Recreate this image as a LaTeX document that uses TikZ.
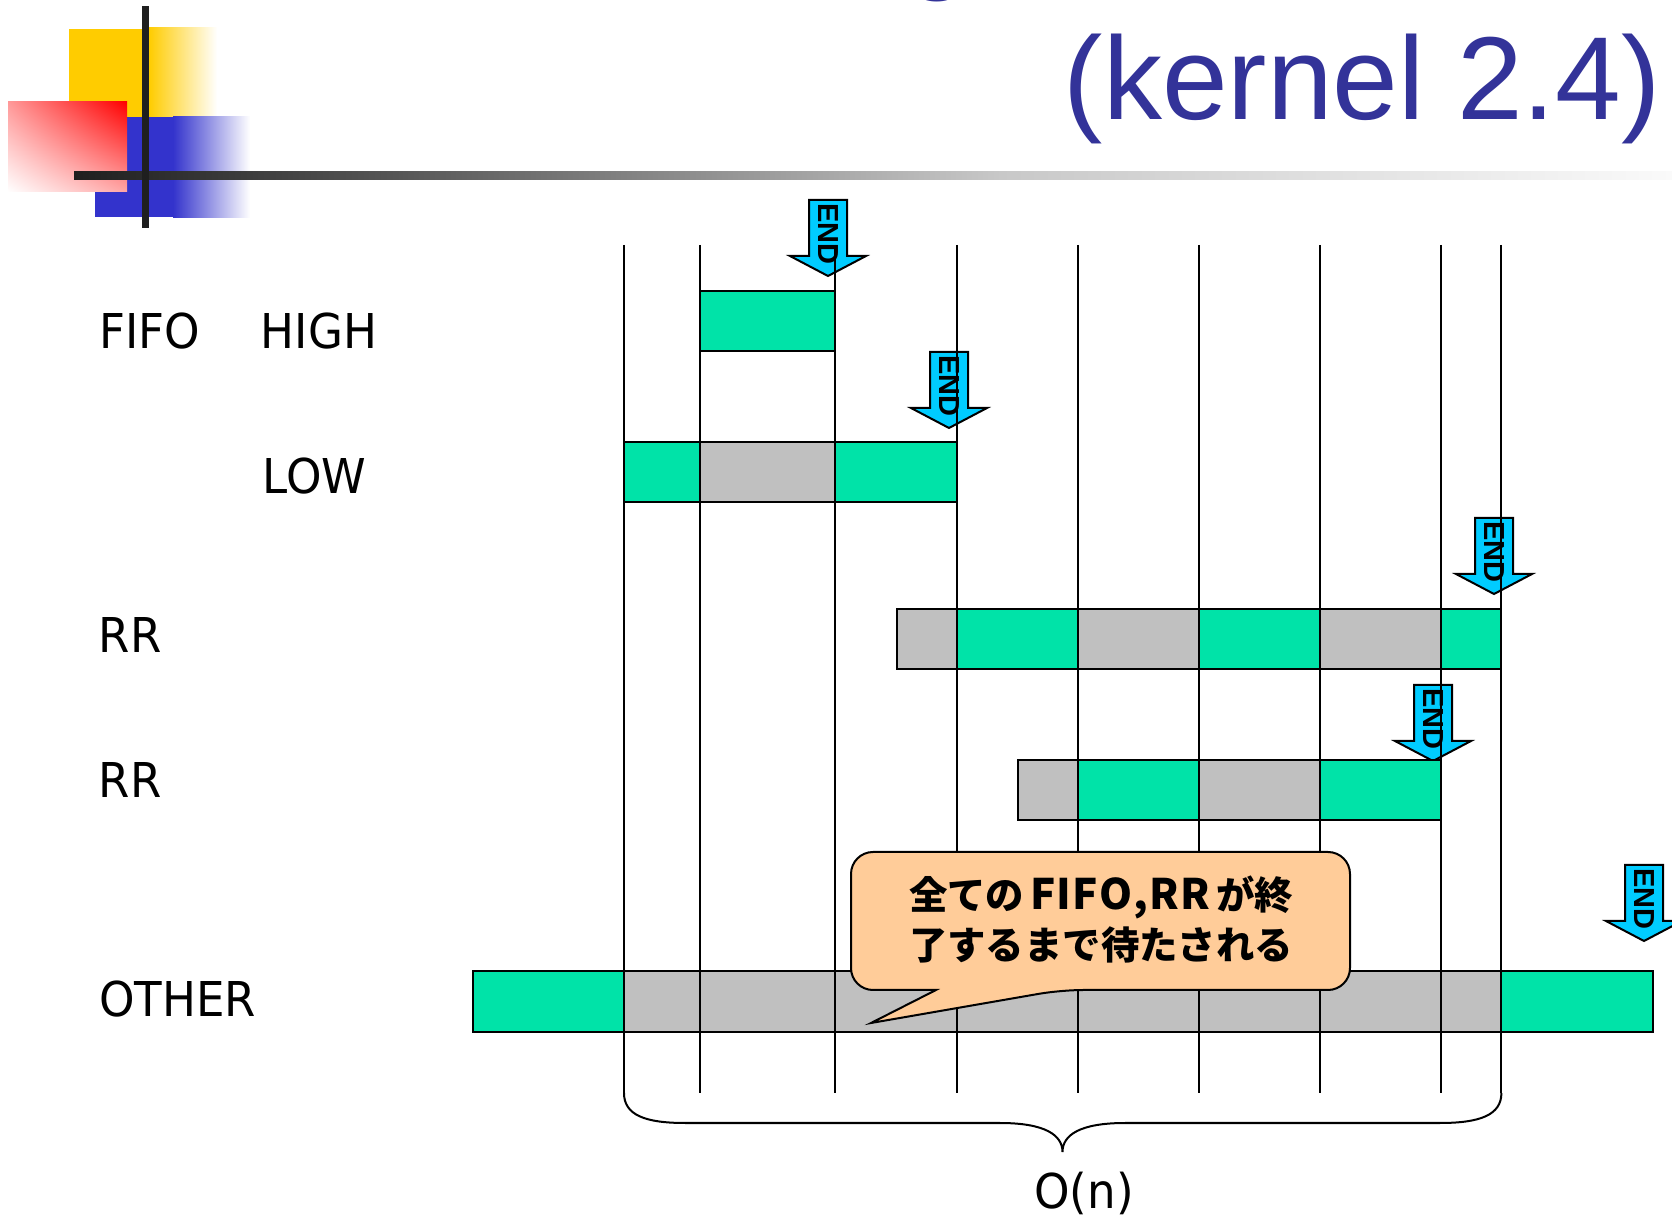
\documentclass[tikz,border=0pt]{standalone}
\usepackage{fontspec}
\usetikzlibrary{shadings}
\setmainfont{Liberation Sans}
\newfontfamily\titlef{Liberation Sans}
\newfontfamily\labf[FakeStretch=0.94]{DejaVu Sans}
\newfontfamily\jpf{Noto Sans CJK JP}
\definecolor{tgreen}{RGB}{0,227,168}
\definecolor{tgray}{RGB}{192,192,192}
\definecolor{tcyan}{RGB}{0,204,255}
\definecolor{tblue}{RGB}{51,51,153}
\definecolor{lyellow}{RGB}{255,204,0}
\definecolor{lblue}{RGB}{51,51,204}
\definecolor{lbar}{RGB}{31,31,31}
\definecolor{lbarb}{RGB}{87,87,87}
\definecolor{lbarc}{RGB}{200,200,200}
\definecolor{lbard}{RGB}{250,250,250}
\definecolor{peach}{RGB}{255,204,153}
\tikzset{
  gridline/.style={line width=1pt, draw=black},
  cellg/.style={fill=tgreen, draw=black, line width=1pt},
  cellx/.style={fill=tgray, draw=black, line width=1pt},
  arrowbody/.style={fill=tcyan, draw=black, line width=1pt, line join=miter},
  endtext/.style={font=\titlef\bfseries\fontsize{14.5}{14.5}\selectfont, rotate=-90, inner sep=0pt},
  lab/.style={font=\labf\fontsize{24}{24}\selectfont, anchor=base west, inner sep=0pt},
  callout/.style={fill=peach, draw=black, line width=1pt, line join=miter},
  calltext/.style={font=\jpf\bfseries\fontsize{19.2}{19.2}\selectfont, anchor=base, inner sep=0pt},
  titletext/.style={font=\titlef\fontsize{59}{59}\selectfont, text=tblue, inner sep=0pt},
  bracepath/.style={line width=1pt, draw=black},
  endarrow/.pic={
    \path[arrowbody] (-19,0) -- (19,0) -- (19,56) -- (38,56) -- (0,76) -- (-38,56) -- (-19,56) -- cycle;
    \node[endtext] (-lab) at (0,34) {END};
  }
}
\begin{document}
\begin{tikzpicture}[x=0.5pt,y=-0.5pt]
\useasboundingbox (0,0) rectangle (1672,1218);
\clip (0,0) rectangle (1672,1218);
\fill[white] (0,0) rectangle (1672,1218);

% logo
\fill[lyellow] (69,29) rectangle (150,117);
\shade[left color=lyellow, right color=white] (149,28) rectangle (217,117);
\fill[lblue] (95,117) rectangle (174,217);
\shade[left color=lblue, right color=white] (173,117) rectangle (250,218);
\shade[upper right=red, lower left=white, upper left=red!40, lower right=red!35] (8,102) rectangle (127,192);
\shade[left color=lbar, right color=lbarb] (74,172) rectangle (401,180);
\shade[left color=lbarb, right color=lbarc] (400,172) rectangle (1001,180);
\shade[left color=lbarc, right color=lbard] (1000,172) rectangle (1672,180);
\fill[lbar] (142,6) rectangle (149,228);

% title
\node[titletext, anchor=base] (titletop) at (938,-22) {g};
\node[titletext, anchor=base east] (title) at (1661,119.4) {(kernel 2.4)};

% END arrows
\pic (endA) at (828,200) {endarrow};
\pic (endB) at (949,352) {endarrow};
\pic (endC) at (1494,518) {endarrow};
\pic (endD) at (1433,685) {endarrow};
\pic (endE) at (1644,865) {endarrow};

% grid lines
\foreach \i/\x in {1/624,2/699.5,3/835,4/956.5,5/1078,6/1198.5,7/1320,8/1440.6,9/1501.4} {
  \coordinate (t\i) at (\x,245);
  \coordinate (b\i) at (\x,1093);
}
\foreach \i in {1,...,9} \draw[gridline] (t\i) -- (b\i);

% FIFO HIGH
\path[cellg] (699.5,291) rectangle (835,351);
% LOW
\path[cellg] (624,442.5) rectangle (699.5,502.5);
\path[cellx] (699.5,442.5) rectangle (835,502.5);
\path[cellg] (835,442.5) rectangle (956.5,502.5);
% RR 1
\foreach \a/\b/\s in {897/956.5/cellx,956.5/1078/cellg,1078/1198.5/cellx,1198.5/1320/cellg,1320/1440.6/cellx,1440.6/1501.4/cellg}
  \path[\s] (\a,609) rectangle (\b,669);
% RR 2
\foreach \a/\b/\s in {1018/1078/cellx,1078/1198.5/cellg,1198.5/1320/cellx,1320/1440.6/cellg}
  \path[\s] (\a,760) rectangle (\b,820);
% OTHER
\foreach \a/\b/\s in {472.5/624/cellg,624/699.5/cellx,699.5/835/cellx,835/956.5/cellx,956.5/1078/cellx,1078/1198.5/cellx,1198.5/1320/cellx,1320/1440.6/cellx,1440.6/1501.4/cellx,1501.4/1652.8/cellg}
  \path[\s] (\a,971.5) rectangle (\b,1032);

% callout
\draw[callout] (936,990) [rounded corners=11pt] -- (851,990) -- (851,852) -- (1350,852) -- (1350,990) -- (1061,990) [sharp corners] -- (871,1023) -- cycle;
\node[calltext] (call1) at (1101,909.5) {全ての\hspace{3pt}\makebox[90pt][s]{\fontsize{21}{21}\selectfont F\hfill I\hfill F\hfill O\hfill ,\hfill R\hfill R}\hspace{3pt}が終};
\node[calltext] (call2) at (1101,960) {了するまで待たされる};

% brace
\draw[bracepath] (b1) .. controls (624,1115) and (645,1123) .. (685,1123) -- (1000,1123) .. controls (1045,1123) and (1062.5,1135) .. (1062.5,1152) .. controls (1062.5,1135) and (1080,1123) .. (1125,1123) -- (1440,1123) .. controls (1480,1123) and (1501.4,1115) .. (b9);
\node[font=\labf\fontsize{24}{24}\selectfont, anchor=base, inner sep=0pt] (on) at (1084,1208) {O(n)};

% labels
\node[lab] (fifo) at (99,348.7) {FIFO};
\node[lab] (high) at (260.5,348.7) {HIGH};
\node[lab] (low) at (262.5,493.7) {LOW};
\node[lab] (rra) at (98.5,652.6) {RR};
\node[lab] (rrb) at (98.5,797.6) {RR};
\node[lab] (other) at (99,1016.2) {OTHER};
\end{tikzpicture}
\end{document}
